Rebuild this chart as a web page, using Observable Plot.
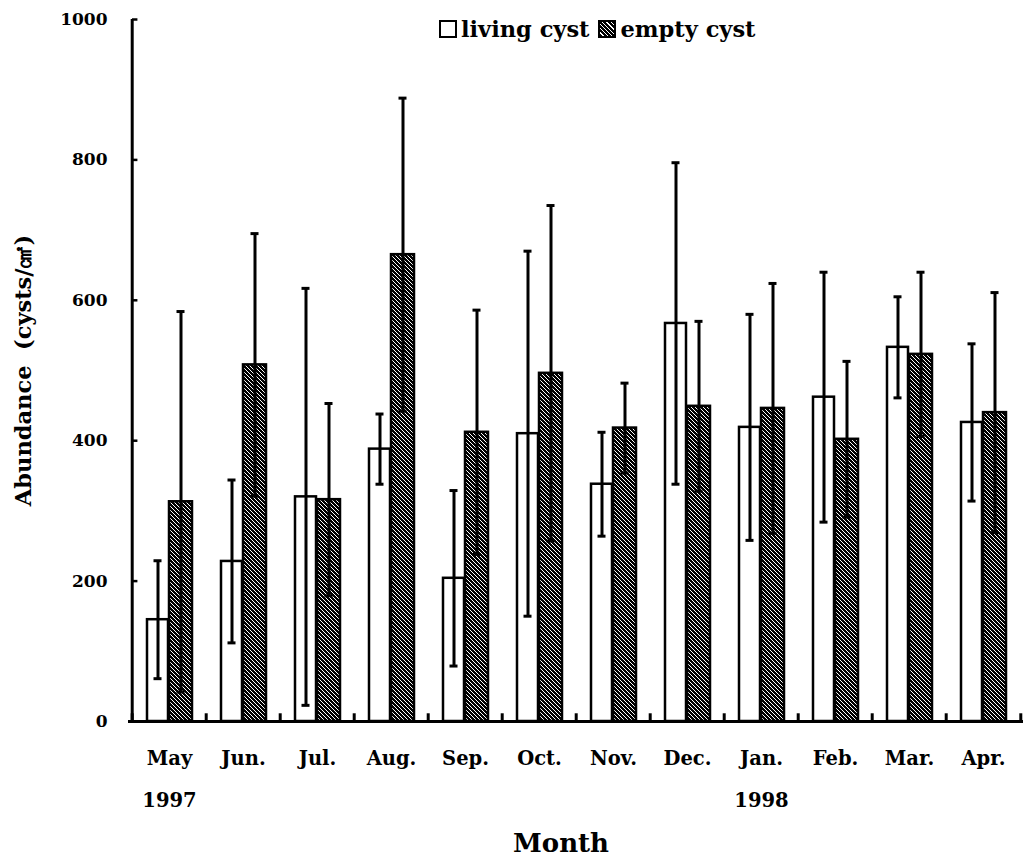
<!DOCTYPE html>
<html>
<head>
<meta charset="utf-8">
<script src="https://cdn.jsdelivr.net/npm/d3@7"></script>
<script src="https://cdn.jsdelivr.net/npm/@observablehq/plot@0.6"></script>
<style>
  body { margin: 0; background: white; }
  #wrap { position: relative; width: 1025px; height: 858px; }
  #legend { position: absolute; top: 16px; left: 439px; font-family: "DejaVu Serif", serif; font-weight: bold; font-size: 22.5px; color: black; display: flex; align-items: center; white-space: nowrap; }
  .box { display: inline-block; width: 14px; height: 14px; border: 2.5px solid black; margin-right: 4px; }
  .box.living { background: white; }
  .box.empty { background: repeating-linear-gradient(45deg, black 0 2px, white 2px 3px); margin-left: 9px; }
</style>
</head>
<body>
<div id="wrap">
  <div id="legend"><span class="box living"></span>living cyst<span class="box empty"></span>empty cyst</div>
</div>
<script>
const months = ["May", "Jun.", "Jul.", "Aug.", "Sep.", "Oct.", "Nov.", "Dec.", "Jan.", "Feb.", "Mar.", "Apr."];
const yearLabels = ["1997", "", "", "", "", "", "", "", "1998", "", "", ""];
const living = [145, 228, 320, 388, 204, 410, 338, 567, 419, 462, 533, 426];
const livingSD = [84, 116, 297, 50, 125, 260, 74, 229, 161, 178, 72, 112];
const empty = [313, 508, 316, 665, 412, 496, 418, 449, 446, 402, 523, 440];
const emptySD = [271, 187, 137, 223, 174, 239, 64, 121, 178, 111, 117, 171];
const yTicks = [0, 200, 400, 600, 800, 1000];

const livingRows = months.map((m, i) => ({month: m, value: living[i], sd: livingSD[i]}));
const emptyRows = months.map((m, i) => ({month: m, value: empty[i], sd: emptySD[i]}));

const half = (1023 - 128) / months.length / 2;
const font = "'DejaVu Serif', serif";

const chart = Plot.plot({
  width: 1025,
  height: 858,
  marginLeft: 128,
  marginRight: 2,
  marginTop: 19,
  marginBottom: 137,
  style: {fontFamily: font, fontWeight: "bold", color: "black", background: "white"},
  x: {type: "band", domain: months, padding: 0, axis: null},
  y: {domain: [0, 1000], axis: null},
  marks: [
    Plot.barY(livingRows, {x: "month", y: "value", fill: "white", stroke: "black", strokeWidth: 2.5, insetLeft: 15, insetRight: 38}),
    Plot.barY(emptyRows, {x: "month", y: "value", fill: "url(#hatch)", stroke: "black", strokeWidth: 2.5, insetLeft: 37, insetRight: 14}),
    Plot.ruleX(livingRows, {x: "month", y1: d => d.value - d.sd, y2: d => d.value + d.sd, dx: -11.5, strokeWidth: 3}),
    Plot.ruleX(emptyRows, {x: "month", y1: d => d.value - d.sd, y2: d => d.value + d.sd, dx: 11.5, strokeWidth: 3}),
    Plot.tickY(livingRows, {x: "month", y: d => d.value + d.sd, dx: -11.5, insetLeft: 33, insetRight: 33, strokeWidth: 3}),
    Plot.tickY(livingRows, {x: "month", y: d => d.value - d.sd, dx: -11.5, insetLeft: 33, insetRight: 33, strokeWidth: 3}),
    Plot.tickY(emptyRows, {x: "month", y: d => d.value + d.sd, dx: 11.5, insetLeft: 33, insetRight: 33, strokeWidth: 3}),
    Plot.tickY(emptyRows, {x: "month", y: d => d.value - d.sd, dx: 11.5, insetLeft: 33, insetRight: 33, strokeWidth: 3}),
    Plot.ruleY([0], {strokeWidth: 3}),
    Plot.ruleX(months, {x: d => d, y1: 0, y2: 11, dx: -half, strokeWidth: 3}),
    Plot.ruleX(months.slice(-1), {x: d => d, y1: 0, y2: 11, dx: half, strokeWidth: 3}),
    Plot.ruleX(months.slice(0, 1), {x: d => d, y1: 0, y2: 1000, dx: -half, strokeWidth: 3}),
    Plot.tickY(yTicks, {y: d => d, x: () => months[0], insetRight: 2 * half - 6, strokeWidth: 2.5}),
    Plot.axisY({ticks: yTicks, tickSize: 0, tickPadding: 21, fontSize: 17, fontWeight: "bold", label: null, tickFormat: d => String(d)}),
    Plot.axisY({ticks: [], tickSize: 0, label: "Abundance  (cysts/㎠)", labelArrow: "none", labelAnchor: "center", labelOffset: 113, fontSize: 22.5, fontWeight: "bold"}),
    Plot.axisX({tickSize: 0, tickPadding: 30, fontSize: 19.5, fontWeight: "bold", label: null}),
    Plot.axisX({tickSize: 0, tickPadding: 72, fontSize: 19.5, fontWeight: "bold", label: null, tickFormat: d => yearLabels[months.indexOf(d)]}),
    Plot.text(["Month"], {text: d => d, frameAnchor: "bottom", lineAnchor: "bottom", dy: 130, dx: -15, fontSize: 26, fontWeight: "bold"})
  ]
});

const svgEl = chart.tagName.toLowerCase() === "svg" ? chart : chart.querySelector("svg");
const ns = "http://www.w3.org/2000/svg";
const defs = document.createElementNS(ns, "defs");
defs.innerHTML = '<pattern id="hatch" patternUnits="userSpaceOnUse" width="4" height="4">' +
  '<rect width="4" height="4" fill="black"/>' +
  '<path d="M-1,-1 L5,5 M-1,3 L1,5 M3,-1 L5,1" stroke="white" stroke-width="1"/></pattern>';
svgEl.insertBefore(defs, svgEl.firstChild);

document.getElementById("wrap").insertBefore(chart, document.getElementById("legend"));
</script>
</body>
</html>
